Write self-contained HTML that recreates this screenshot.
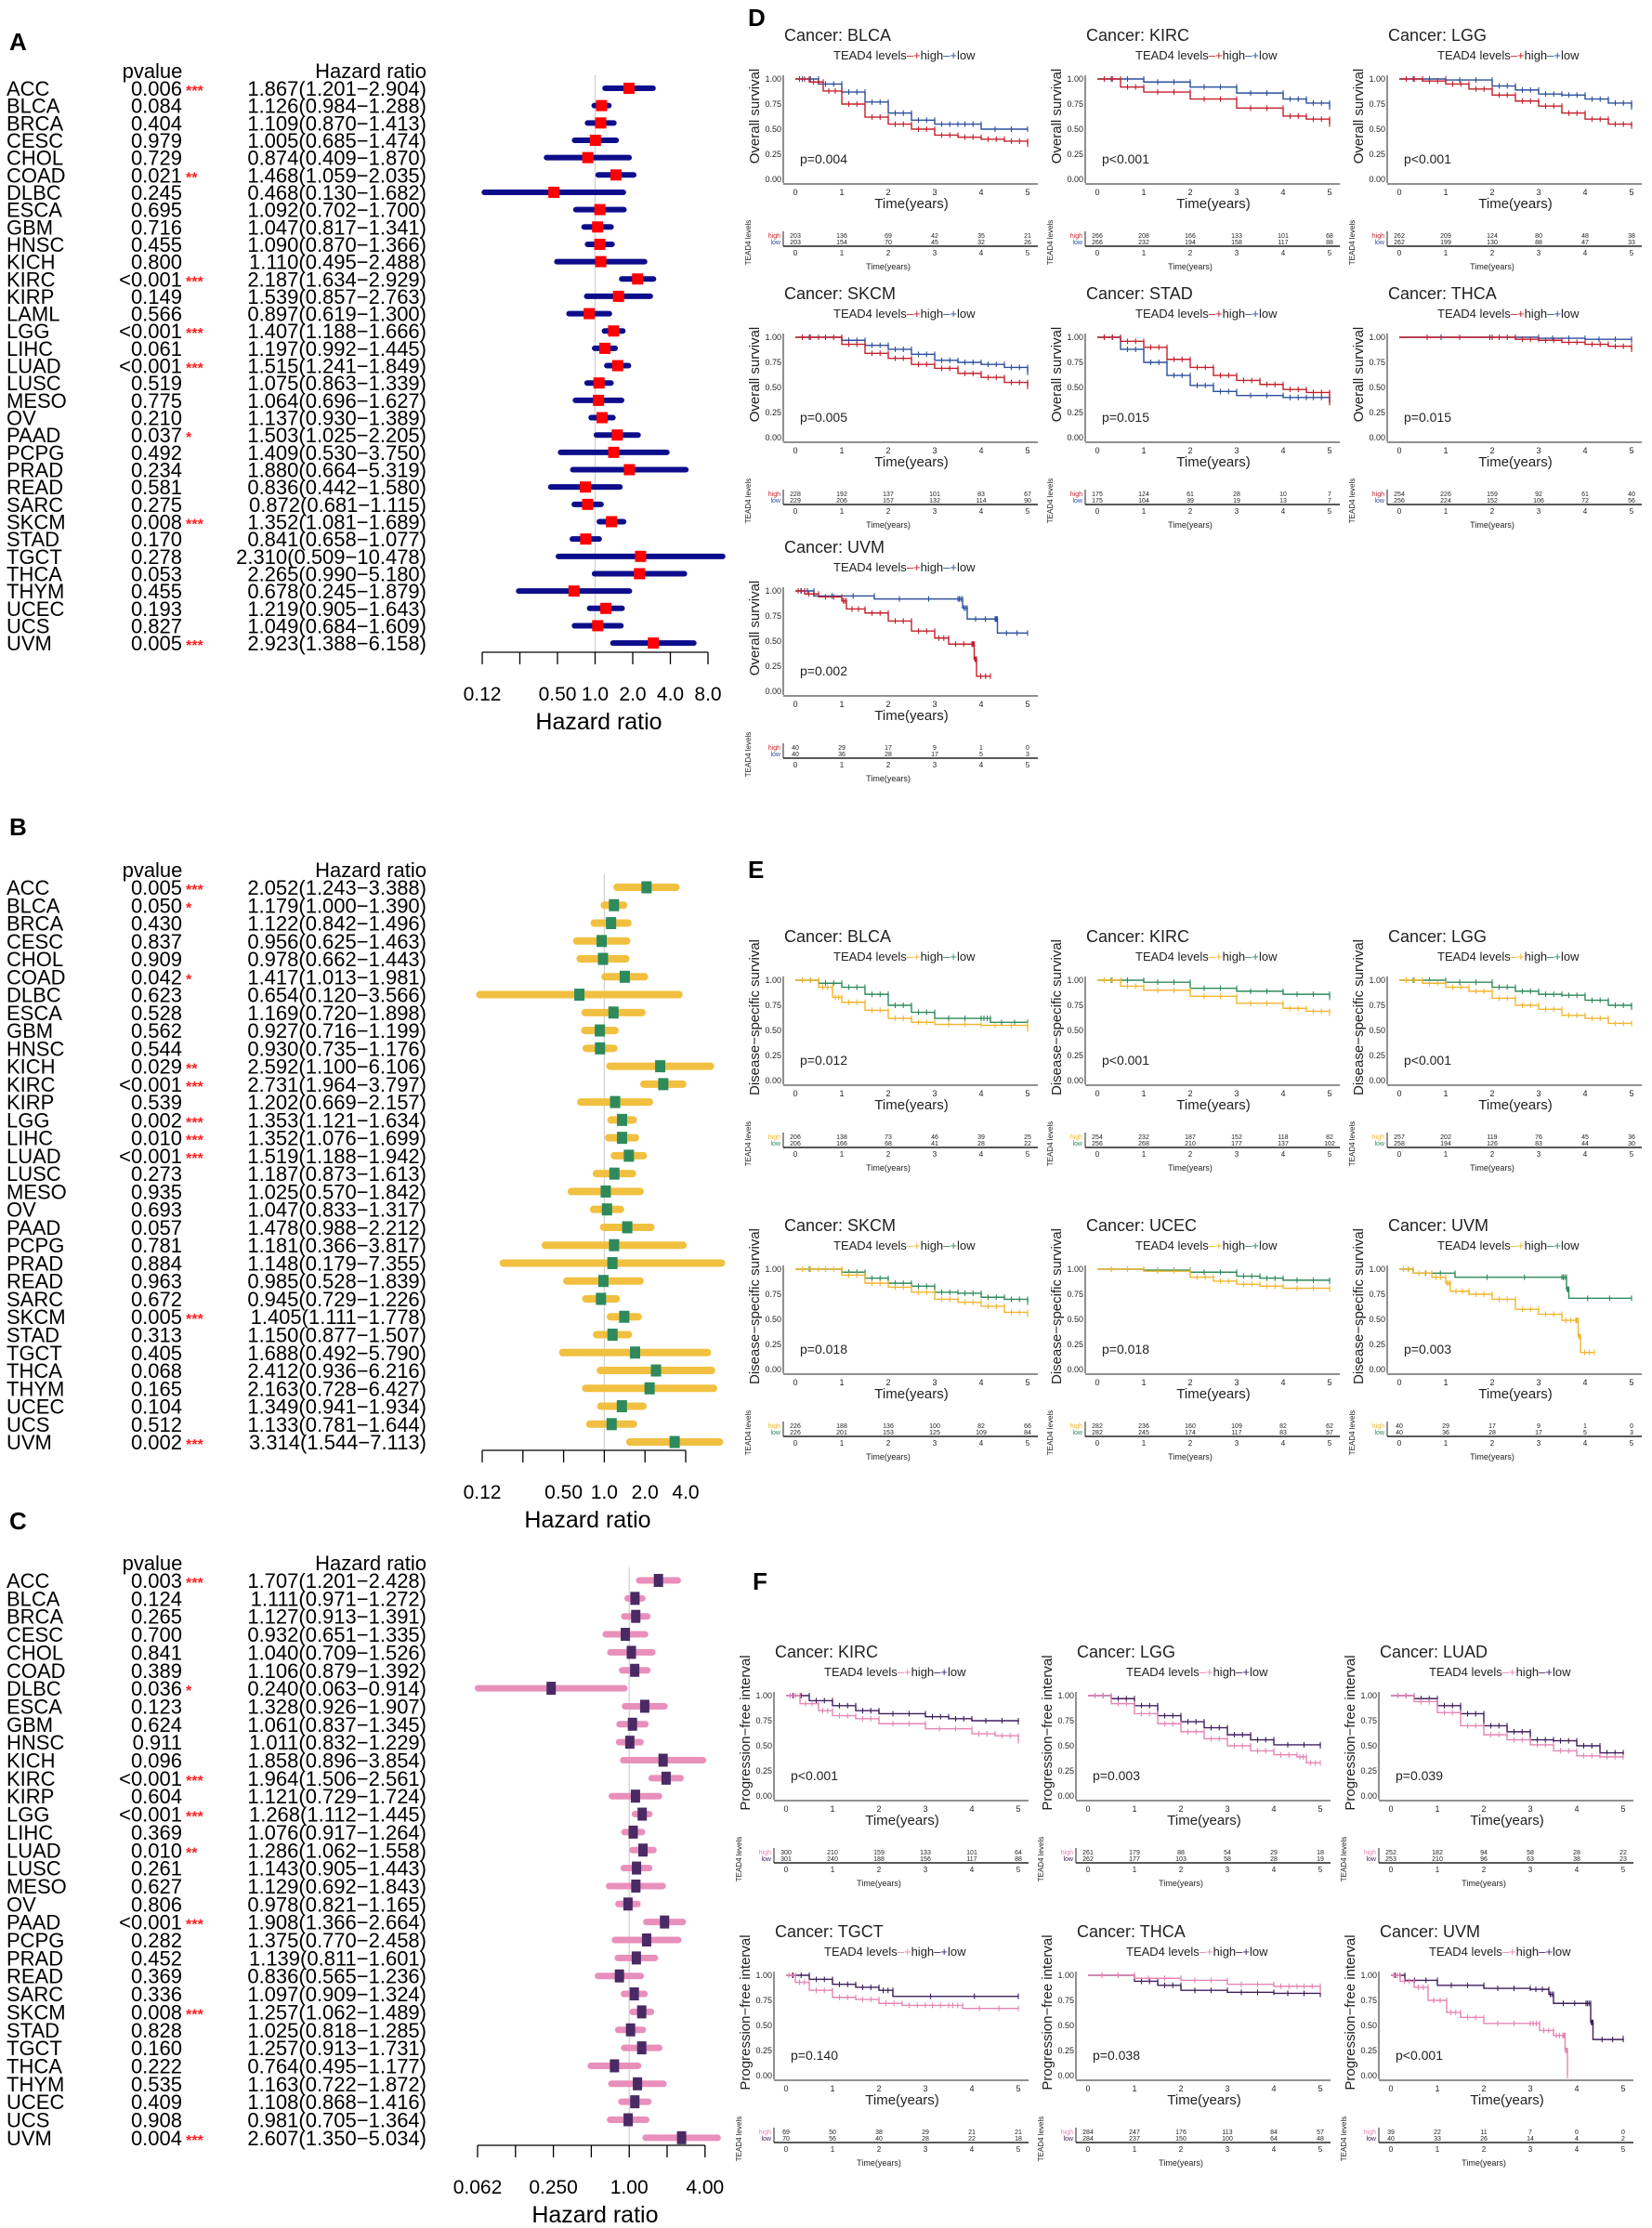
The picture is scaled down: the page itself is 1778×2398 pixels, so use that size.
<!DOCTYPE html>
<html><head><meta charset="utf-8"><title>TEAD4 survival figure</title>
<style>
html,body{margin:0;padding:0;background:#fff;}
svg{display:block;font-family:"Liberation Sans",Arial,sans-serif;}
.km text{font-family:"Liberation Sans Narrow","Liberation Sans",sans-serif;}
</style></head>
<body>
<svg id="fig" width="1778" height="2398" viewBox="0 0 1778 2398" xmlns="http://www.w3.org/2000/svg">
<rect x="0" y="0" width="1778" height="2398" fill="#fff"/>
</svg>
<script>
// ---------- Forest plot data ----------
const catsA = ["ACC","BLCA","BRCA","CESC","CHOL","COAD","DLBC","ESCA","GBM","HNSC","KICH","KIRC","KIRP","LAML","LGG","LIHC","LUAD","LUSC","MESO","OV","PAAD","PCPG","PRAD","READ","SARC","SKCM","STAD","TGCT","THCA","THYM","UCEC","UCS","UVM"];
const pA = ["0.006","0.084","0.404","0.979","0.729","0.021","0.245","0.695","0.716","0.455","0.800","<0.001","0.149","0.566","<0.001","0.061","<0.001","0.519","0.775","0.210","0.037","0.492","0.234","0.581","0.275","0.008","0.170","0.278","0.053","0.455","0.193","0.827","0.005"];
const starsA = ["***","","","","","**","","","","","","***","","","***","","***","","","","*","","","","","***","","","","","","","***"];
const hrA = [1.867,1.126,1.109,1.005,0.874,1.468,0.468,1.092,1.047,1.090,1.110,2.187,1.539,0.897,1.407,1.197,1.515,1.075,1.064,1.137,1.503,1.409,1.880,0.836,0.872,1.352,0.841,2.310,2.265,0.678,1.219,1.049,2.923];
const loA = [1.201,0.984,0.870,0.685,0.409,1.059,0.130,0.702,0.817,0.870,0.495,1.634,0.857,0.619,1.188,0.992,1.241,0.863,0.696,0.930,1.025,0.530,0.664,0.442,0.681,1.081,0.658,0.509,0.990,0.245,0.905,0.684,1.388];
const hiA = [2.904,1.288,1.413,1.474,1.870,2.035,1.682,1.700,1.341,1.366,2.488,2.929,2.763,1.300,1.666,1.445,1.849,1.339,1.627,1.389,2.205,3.750,5.319,1.580,1.115,1.689,1.077,10.478,5.180,1.879,1.643,1.609,6.158];
const ticksA = [0.125,0.25,0.5,1,2,4,8];
const tickLabelsA = ["0.12","","0.50","1.0","2.0","4.0","8.0"];

const catsB = ["ACC","BLCA","BRCA","CESC","CHOL","COAD","DLBC","ESCA","GBM","HNSC","KICH","KIRC","KIRP","LGG","LIHC","LUAD","LUSC","MESO","OV","PAAD","PCPG","PRAD","READ","SARC","SKCM","STAD","TGCT","THCA","THYM","UCEC","UCS","UVM"];
const pB = ["0.005","0.050","0.430","0.837","0.909","0.042","0.623","0.528","0.562","0.544","0.029","<0.001","0.539","0.002","0.010","<0.001","0.273","0.935","0.693","0.057","0.781","0.884","0.963","0.672","0.005","0.313","0.405","0.068","0.165","0.104","0.512","0.002"];
const starsB = ["***","*","","","","*","","","","","**","***","","***","***","***","","","","","","","","","***","","","","","","","***"];
const hrB = [2.052,1.179,1.122,0.956,0.978,1.417,0.654,1.169,0.927,0.930,2.592,2.731,1.202,1.353,1.352,1.519,1.187,1.025,1.047,1.478,1.181,1.148,0.985,0.945,1.405,1.150,1.688,2.412,2.163,1.349,1.133,3.314];
const loB = [1.243,1.000,0.842,0.625,0.662,1.013,0.120,0.720,0.716,0.735,1.100,1.964,0.669,1.121,1.076,1.188,0.873,0.570,0.833,0.988,0.366,0.179,0.528,0.729,1.111,0.877,0.492,0.936,0.728,0.941,0.781,1.544];
const hiB = [3.388,1.390,1.496,1.463,1.443,1.981,3.566,1.898,1.199,1.176,6.106,3.797,2.157,1.634,1.699,1.942,1.613,1.842,1.317,2.212,3.817,7.355,1.839,1.226,1.778,1.507,5.790,6.216,6.427,1.934,1.644,7.113];
const ticksB = [0.125,0.25,0.5,1,2,4];
const tickLabelsB = ["0.12","","0.50","1.0","2.0","4.0"];

const catsC = catsB;
const pC = ["0.003","0.124","0.265","0.700","0.841","0.389","0.036","0.123","0.624","0.911","0.096","<0.001","0.604","<0.001","0.369","0.010","0.261","0.627","0.806","<0.001","0.282","0.452","0.369","0.336","0.008","0.828","0.160","0.222","0.535","0.409","0.908","0.004"];
const starsC = ["***","","","","","","*","","","","","***","","***","","**","","","","***","","","","","***","","","","","","","***"];
const hrC = [1.707,1.111,1.127,0.932,1.040,1.106,0.240,1.328,1.061,1.011,1.858,1.964,1.121,1.268,1.076,1.286,1.143,1.129,0.978,1.908,1.375,1.139,0.836,1.097,1.257,1.025,1.257,0.764,1.163,1.108,0.981,2.607];
const loC = [1.201,0.971,0.913,0.651,0.709,0.879,0.063,0.926,0.837,0.832,0.896,1.506,0.729,1.112,0.917,1.062,0.905,0.692,0.821,1.366,0.770,0.811,0.565,0.909,1.062,0.818,0.913,0.495,0.722,0.868,0.705,1.350];
const hiC = [2.428,1.272,1.391,1.335,1.526,1.392,0.914,1.907,1.345,1.229,3.854,2.561,1.724,1.445,1.264,1.558,1.443,1.843,1.165,2.664,2.458,1.601,1.236,1.324,1.489,1.285,1.731,1.177,1.872,1.416,1.364,5.034];
const ticksC = [0.0625,0.125,0.25,0.5,1,2,4];
const tickLabelsC = ["0.062","","0.250","","1.00","","4.00"];

// ---------- KM data: [time(years), survival] ----------
const D_BLCA_high=[[0,1],[0.3,.97],[0.6,.88],[1,.75],[1.5,.62],[2,.55],[2.5,.5],[3,.44],[3.5,.42],[4,.40],[4.5,.38],[5,.35]];
const D_BLCA_low=[[0,1],[0.5,.95],[1,.87],[1.5,.77],[2,.66],[2.5,.59],[3,.55],[3.5,.55],[4,.50],[5,.50]];
const D_KIRC_high=[[0,1],[0.5,.92],[1,.87],[2,.80],[3,.71],[4,.63],[4.5,.60],[5,.55]];
const D_KIRC_low=[[0,1],[1,.97],[2,.92],[3,.86],[4,.80],[4.5,.76],[5,.72]];
const D_LGG_high=[[0,1],[0.5,.98],[1,.95],[1.5,.90],[2,.84],[2.5,.78],[3,.73],[3.5,.66],[4,.60],[4.5,.55],[5,.53]];
const D_LGG_low=[[0,1],[1,.99],[2,.93],[2.5,.89],[3,.85],[3.5,.84],[4,.80],[4.5,.76],[5,.72]];
const D_SKCM_high=[[0,1],[0.5,1],[1,.93],[1.5,.84],[2,.79],[2.5,.73],[3,.69],[3.5,.64],[4,.60],[4.5,.55],[5,.51]];
const D_SKCM_low=[[0,1],[1,.97],[1.5,.92],[2,.88],[2.5,.83],[3,.77],[3.5,.75],[4,.73],[4.5,.70],[5,.65]];
const D_STAD_high=[[0,1],[0.5,.96],[1,.90],[1.5,.78],[2,.70],[2.5,.62],[3,.57],[3.5,.53],[4,.48],[4.5,.45],[5,.35]];
const D_STAD_low=[[0,1],[0.5,.88],[1,.75],[1.5,.62],[2,.52],[2.5,.46],[3,.42],[4,.40],[4.5,.40],[5,.35]];
const D_THCA_high=[[0,1],[2,1],[2.5,.98],[3,.97],[3.5,.95],[4,.93],[4.5,.91],[5,.88]];
const D_THCA_low=[[0,1],[3,.99],[4,.98],[5,.97]];
const D_UVM_high=[[0,1],[0.2,.97],[0.5,.94],[1,.90],[1.1,.82],[1.5,.78],[2,.70],[2.5,.60],[3,.53],[3.3,.47],[3.8,.47],[3.85,.32],[3.9,.15],[4.2,.15]];
const D_UVM_low=[[0,1],[0.4,.95],[1.7,.92],[3.5,.92],[3.6,.83],[3.7,.72],[4.3,.72],[4.35,.58],[5,.58]];

const E_BLCA_high=[[0,1],[0.5,.93],[0.8,.83],[1,.78],[1.5,.70],[2,.62],[2.5,.58],[3,.56],[4,.55],[5,.51]];
const E_BLCA_low=[[0,1],[0.5,.97],[1,.93],[1.5,.86],[2,.75],[2.5,.68],[3,.62],[4,.62],[4.2,.58],[5,.58]];
const E_KIRC_high=[[0,1],[0.5,.94],[1,.90],[2,.84],[3,.77],[4,.72],[4.5,.69],[5,.67]];
const E_KIRC_low=[[0,1],[1,.98],[2,.92],[3,.89],[4,.86],[5,.83]];
const E_LGG_high=[[0,1],[0.5,.97],[1,.93],[1.5,.89],[2,.82],[2.5,.75],[3,.71],[3.5,.65],[4,.62],[4.5,.57],[5,.57]];
const E_LGG_low=[[0,1],[1,.98],[2,.93],[2.5,.89],[3,.86],[3.5,.85],[4,.80],[4.5,.75],[5,.73]];
const E_SKCM_high=[[0,1],[0.5,1],[1,.94],[1.5,.86],[2,.82],[2.5,.77],[3,.70],[3.5,.67],[4,.63],[4.5,.57],[5,.55]];
const E_SKCM_low=[[0,1],[1,.97],[1.5,.91],[2,.86],[2.5,.83],[3,.77],[3.5,.76],[4,.72],[4.5,.70],[5,.67]];
const E_UCEC_high=[[0,1],[1,.98],[2,.92],[2.5,.88],[3,.85],[3.5,.83],[4,.81],[5,.80]];
const E_UCEC_low=[[0,1],[1,.99],[2,.97],[3,.93],[3.5,.91],[4,.89],[5,.88]];
const E_UVM_high=[[0,1],[0.3,.96],[0.7,.92],[1,.86],[1.1,.78],[1.5,.75],[2,.70],[2.5,.60],[3,.55],[3.5,.49],[3.8,.49],[3.85,.33],[3.9,.17],[4.2,.17]];
const E_UVM_low=[[0,1],[0.3,.96],[1.2,.92],[3.5,.92],[3.6,.80],[3.65,.71],[5,.71]];

const F_KIRC_high=[[0,1],[0.3,.92],[0.7,.85],[1,.80],[1.5,.77],[2,.72],[3,.67],[4,.62],[4.5,.60],[5,.55]];
const F_KIRC_low=[[0,1],[0.5,.95],[1,.90],[1.5,.85],[2,.82],[3,.79],[3.5,.77],[4,.75],[5,.74]];
const F_LGG_high=[[0,1],[0.5,.92],[1,.82],[1.5,.72],[2,.64],[2.5,.57],[3,.50],[3.5,.45],[4,.41],[4.5,.39],[4.7,.33],[5,.33]];
const F_LGG_low=[[0,1],[0.5,.97],[1,.90],[1.5,.80],[2,.74],[2.5,.68],[3,.61],[3.5,.56],[4,.51],[5,.50]];
const F_LUAD_high=[[0,1],[0.5,.94],[1,.83],[1.5,.70],[2,.61],[2.5,.56],[3,.51],[3.5,.45],[4,.40],[4.5,.39],[5,.39]];
const F_LUAD_low=[[0,1],[0.5,.97],[1,.90],[1.5,.82],[2,.70],[2.5,.64],[3,.56],[3.5,.55],[4,.50],[4.5,.43],[5,.41]];
const F_TGCT_high=[[0,1],[0.2,.93],[0.5,.85],[1,.78],[1.5,.76],[2,.72],[2.5,.70],[3,.70],[3.5,.70],[3.8,.67],[5,.67]];
const F_TGCT_low=[[0,1],[0.5,.96],[1,.91],[1.5,.88],[2,.85],[2.3,.79],[5,.79]];
const F_THCA_high=[[0,1],[1,.97],[2,.95],[3,.91],[4,.89],[4.5,.89],[5,.85]];
const F_THCA_low=[[0,1],[1,.94],[1.5,.90],[2,.85],[3,.83],[4,.82],[5,.81]];
const F_UVM_high=[[0,1],[0.2,.94],[0.5,.88],[0.8,.75],[1.2,.63],[1.5,.58],[2,.52],[3,.52],[3.2,.45],[3.5,.40],[3.7,.40],[3.75,.25],[3.8,0]];
const F_UVM_low=[[0,1],[0.3,.95],[1,.90],[2,.87],[3,.86],[3.4,.81],[3.5,.72],[4.2,.72],[4.3,.53],[4.35,.36],[5,.37]];

// risk tables (numbers at risk, years 0..5)
const riskD = {
 BLCA:[[203,136,69,42,35,21],[203,154,70,45,32,26]],
 KIRC:[[266,208,166,133,101,68],[266,232,194,158,117,88]],
 LGG:[[262,209,124,80,48,38],[262,199,130,88,47,33]],
 SKCM:[[228,192,137,101,83,67],[229,206,157,132,114,90]],
 STAD:[[175,124,61,28,10,7],[175,104,39,19,13,7]],
 THCA:[[254,226,159,92,61,40],[256,224,152,106,72,56]],
 UVM:[[40,29,17,9,1,0],[40,36,28,17,5,3]]
};
const riskE = {
 BLCA:[[206,138,73,46,39,25],[206,166,68,41,28,22]],
 KIRC:[[254,232,187,152,118,82],[256,268,210,177,137,102]],
 LGG:[[257,202,119,76,45,36],[258,194,126,83,44,30]],
 SKCM:[[226,188,136,100,82,66],[226,201,153,125,109,84]],
 UCEC:[[282,236,160,109,82,62],[282,245,174,117,83,57]],
 UVM:[[40,29,17,9,1,0],[40,36,28,17,5,3]]
};
const riskF = {
 KIRC:[[300,210,159,133,101,64],[301,240,188,156,117,88]],
 LGG:[[261,179,88,54,29,18],[262,177,103,58,28,19]],
 LUAD:[[252,182,94,58,28,22],[253,210,96,63,38,23]],
 TGCT:[[69,50,38,29,21,21],[70,56,40,28,22,18]],
 THCA:[[284,247,176,113,84,57],[284,237,150,100,64,48]],
 UVM:[[39,22,11,7,0,0],[40,33,26,14,4,2]]
};

const NS = 'http://www.w3.org/2000/svg';
const svg = document.getElementById('fig');
function mk(tag, attrs, parent){
  const e = document.createElementNS(NS, tag);
  for (const k in attrs) e.setAttribute(k, attrs[k]);
  (parent || svg).appendChild(e);
  return e;
}
function tx(x, y, s, attrs, parent){
  const e = mk('text', Object.assign({x:x, y:y}, attrs), parent);
  e.textContent = s;
  return e;
}

// ---------- panel letters ----------
const letters = [["A",10,54],["B",10,899],["C",10,1646],["D",805,28],["E",805,945],["F",810,1711]];
letters.forEach(L => {
  const t = tx(L[1], L[2], L[0], {'font-size':26,'font-weight':'bold',fill:'#000'});
  
  
});

// ---------- forest plot ----------
function forest(cfg){
  const g = mk('g', {});
  
  
  const lt = Math.log2(cfg.ticks[0]);
  const xs = v => cfg.ax0 + (Math.log2(v) - lt) * cfg.per;
  const fs = 22;
  const h1 = tx(164, cfg.y0 - 19 + 8, 'pvalue', {'font-size':fs,'text-anchor':'middle'}, g);
  
  
  const h2 = tx(459, cfg.y0 - 19 + 8, 'Hazard ratio', {'font-size':fs,'text-anchor':'end'}, g);
  
  
  const yEnd = cfg.y0 + (cfg.cats.length - 1) * cfg.dy;
  const ref = mk('line', {x1:xs(1), x2:xs(1), y1:cfg.y0 - 14, y2:cfg.axisY, stroke:'#cfcfcf','stroke-width':1.2}, g);
  
  
  cfg.cats.forEach((c, i) => {
    const y = cfg.y0 + i * cfg.dy;
    const t1 = tx(7, y + 8, c, {'font-size':fs}, g);
    
    
    const t2 = tx(196, y + 8, cfg.p[i], {'font-size':fs,'text-anchor':'end'}, g);
    
    
    if (cfg.st[i]) {
      const t3 = tx(200, y + 8, cfg.st[i], {'font-size':16,'font-weight':'bold',fill:'#ff2020'}, g);
      
      
    }
    const s = cfg.hr[i].toFixed(3) + '(' + cfg.lo[i].toFixed(3) + '\u2212' + cfg.hi[i].toFixed(3) + ')';
    const t4 = tx(459, y + 8, s, {'font-size':fs,'text-anchor':'end'}, g);
    
    
    const ci = mk('line', {x1:xs(cfg.lo[i]), x2:xs(cfg.hi[i]), y1:y, y2:y, stroke:cfg.barColor,'stroke-width':cfg.barW,'stroke-linecap':'round'}, g);
    
    
    const bx = mk('rect', {x:xs(cfg.hr[i]) - cfg.boxW/2, y:y - cfg.boxH/2, width:cfg.boxW, height:cfg.boxH, fill:cfg.boxColor}, g);
    
    
  });
  const ax = mk('line', {x1:xs(cfg.ticks[0]), x2:xs(cfg.ticks[cfg.ticks.length-1]), y1:cfg.axisY, y2:cfg.axisY, stroke:'#000','stroke-width':1.3}, g);
  
  
  cfg.ticks.forEach((tv, k) => {
    const tk = mk('line', {x1:xs(tv), x2:xs(tv), y1:cfg.axisY, y2:cfg.axisY + 13, stroke:'#000','stroke-width':1.3}, g);
    
    
    if (cfg.tickLabels[k]) {
      const tl = tx(xs(tv), cfg.axisY + 52, cfg.tickLabels[k], {'font-size':21,'text-anchor':'middle'}, g);
      
      
    }
  });
  const xt = tx((xs(cfg.ticks[0]) + xs(cfg.ticks[cfg.ticks.length-1])) / 2 + 4, cfg.axisY + 83, 'Hazard ratio', {'font-size':25,'text-anchor':'middle'}, g);
  
  
}

forest({name:'forest-plot-a', cats:catsA, p:pA, st:starsA, hr:hrA, lo:loA, hi:hiA, ticks:ticksA, tickLabels:tickLabelsA,
  y0:95, dy:18.66, ax0:519, per:40.5, axisY:702, barColor:'#0d0d8c', barW:6, boxColor:'#ff0000', boxW:12, boxH:12});
forest({name:'forest-plot-b', cats:catsB, p:pB, st:starsB, hr:hrB, lo:loB, hi:hiB, ticks:ticksB, tickLabels:tickLabelsB,
  y0:955, dy:19.26, ax0:519, per:43.8, axisY:1561, barColor:'#f2c040', barW:8, boxColor:'#2e8a5c', boxW:11, boxH:13});
forest({name:'forest-plot-c', cats:catsC, p:pC, st:starsC, hr:hrC, lo:loC, hi:hiC, ticks:ticksC, tickLabels:tickLabelsC,
  y0:1701, dy:19.35, ax0:514, per:40.8, axisY:2309, barColor:'#e98fbb', barW:7, boxColor:'#4a2a64', boxW:10, boxH:14});

// ---------- KM panel ----------
function km(cfg){
  const g = mk('g', {class:'km'});
  
  
  const ox = cfg.ox, oy = cfg.oy, h = 108, yr = 50;
  const X = t => ox + t * yr;
  const Y = s => oy + (1 - s) * h;
  const t1 = tx(ox - 12, oy - 41, 'Cancer: ' + cfg.cancer, {'font-size':18,fill:'#222'}, g);
  
  
  const lg = tx(ox + 41, oy - 21, '', {'font-size':13,fill:'#222'}, g);
  
  
  const parts = [['TEAD4 levels','#222'],['\u2012+','' + cfg.cHigh],['high','#222'],['\u2012+', cfg.cLow],['low','#222']];
  parts.forEach(pp => {
    const sp = mk('tspan', {fill:pp[1]}, lg);
    sp.textContent = pp[0];
    
    
  });
  const yl = tx(0, 0, cfg.ylab, {'font-size':15,fill:'#222','text-anchor':'middle',transform:'translate(' + (ox - 39) + ',' + (oy + 40) + ') rotate(-90)'}, g);
  
  
  const ya = mk('line', {x1:ox - 13, x2:ox - 13, y1:oy - 4, y2:oy + h + 4, stroke:'#222','stroke-width':1}, g);
  
  
  [0, 0.25, 0.5, 0.75, 1].forEach(v => {
    const yl2 = tx(ox - 15, Y(v) + 3, v.toFixed(2), {'font-size':9,'text-anchor':'end',fill:'#222'}, g);
    
    
  });
  const xa = mk('line', {x1:ox - 13, x2:ox + 261, y1:oy + 113, y2:oy + 113, stroke:'#222','stroke-width':1}, g);
  
  
  for (let t = 0; t <= 5; t++) {
    const xl = tx(X(t), oy + 125, String(t), {'font-size':9,'text-anchor':'middle',fill:'#222'}, g);
    
    
  }
  const xt = tx(ox + 125, oy + 139, 'Time(years)', {'font-size':15,'text-anchor':'middle',fill:'#222'}, g);
  
  
  const pt = tx(ox + 5, oy + 91, cfg.p, {'font-size':14,fill:'#222'}, g);
  
  
  [[cfg.low, cfg.cLow, 'low'], [cfg.high, cfg.cHigh, 'high']].forEach(cv => {
    const pts = cv[0];
    let d = 'M' + X(pts[0][0]) + ',' + Y(pts[0][1]);
    let marks = '';
    for (let i = 1; i < pts.length; i++) {
      d += 'H' + X(pts[i][0]) + 'V' + Y(pts[i][1]);
      const xa0 = X(pts[i-1][0]), xa1 = X(pts[i][0]), yy = Y(pts[i-1][1]);
      for (let f = 0.3; f < 1; f += 0.35) {
        const mx = xa0 + (xa1 - xa0) * f;
        marks += 'M' + mx + ',' + (yy - 3) + 'V' + (yy + 3);
      }
    }
    const last = pts[pts.length-1];
    marks += 'M' + X(last[0]) + ',' + (Y(last[1]) - 3) + 'V' + (Y(last[1]) + 3);
    const pa = mk('path', {d:d, fill:'none', stroke:cv[1], 'stroke-width':1.4}, g);
    
    
    const cm = mk('path', {d:marks, fill:'none', stroke:cv[1], 'stroke-width':1.1}, g);
    
    
  });
  // risk table
  const rt = tx(0, 0, 'TEAD4 levels', {'font-size':8,'text-anchor':'middle',fill:'#222',transform:'translate(' + (ox - 48) + ',' + (oy + 176) + ') rotate(-90)'}, g);
  
  
  const rh = tx(ox - 16, oy + 171, 'high', {'font-size':7,'text-anchor':'end',fill:cfg.cHigh}, g);
  
  
  const rl = tx(ox - 16, oy + 178, 'low', {'font-size':7,'text-anchor':'end',fill:cfg.cLow}, g);
  
  
  const ra = mk('line', {x1:ox - 13, x2:ox - 13, y1:oy + 164, y2:oy + 180, stroke:'#222','stroke-width':1}, g);
  
  
  const rx = mk('line', {x1:ox - 13, x2:ox + 261, y1:oy + 180, y2:oy + 180, stroke:'#222','stroke-width':1.4}, g);
  
  
  for (let t = 0; t <= 5; t++) {
    const n1 = tx(X(t), oy + 171, String(cfg.risk[0][t]), {'font-size':7,'text-anchor':'middle',fill:'#222'}, g);
    
    
    const n2 = tx(X(t), oy + 178, String(cfg.risk[1][t]), {'font-size':7,'text-anchor':'middle',fill:'#222'}, g);
    
    
    const n3 = tx(X(t), oy + 190, String(t), {'font-size':8,'text-anchor':'middle',fill:'#222'}, g);
    
    
  }
  const rtt = tx(ox + 100, oy + 205, 'Time(years)', {'font-size':9,'text-anchor':'middle',fill:'#222'}, g);
  
  
}

const colD = [856, 1181, 1506], rowD = [85, 363, 636];
const colE = [856, 1181, 1506], rowE = [1055, 1366];
const colF = [846, 1171, 1497], rowF = [1825, 2126];
const cD = ['#c3202c', '#2b4f9c'], cE = ['#f2b62e', '#2e8a5c'], cF = ['#e586b4', '#3f1f5e'];
const ylD = 'Overall survival', ylE = 'Disease\u2212specific survival', ylF = 'Progression\u2212free interval';

const panelsD = [['BLCA',D_BLCA_high,D_BLCA_low,'p=0.004'],['KIRC',D_KIRC_high,D_KIRC_low,'p<0.001'],['LGG',D_LGG_high,D_LGG_low,'p<0.001'],
 ['SKCM',D_SKCM_high,D_SKCM_low,'p=0.005'],['STAD',D_STAD_high,D_STAD_low,'p=0.015'],['THCA',D_THCA_high,D_THCA_low,'p=0.015'],['UVM',D_UVM_high,D_UVM_low,'p=0.002']];
panelsD.forEach((p, i) => km({name:'km-os-' + p[0].toLowerCase(), cancer:p[0], high:p[1], low:p[2], p:p[3], ox:colD[i % 3], oy:rowD[Math.floor(i / 3)],
  cHigh:cD[0], cLow:cD[1], ylab:ylD, risk:riskD[p[0]]}));
const panelsE = [['BLCA',E_BLCA_high,E_BLCA_low,'p=0.012'],['KIRC',E_KIRC_high,E_KIRC_low,'p<0.001'],['LGG',E_LGG_high,E_LGG_low,'p<0.001'],
 ['SKCM',E_SKCM_high,E_SKCM_low,'p=0.018'],['UCEC',E_UCEC_high,E_UCEC_low,'p=0.018'],['UVM',E_UVM_high,E_UVM_low,'p=0.003']];
panelsE.forEach((p, i) => km({name:'km-dss-' + p[0].toLowerCase(), cancer:p[0], high:p[1], low:p[2], p:p[3], ox:colE[i % 3], oy:rowE[Math.floor(i / 3)],
  cHigh:cE[0], cLow:cE[1], ylab:ylE, risk:riskE[p[0]]}));
const panelsF = [['KIRC',F_KIRC_high,F_KIRC_low,'p<0.001'],['LGG',F_LGG_high,F_LGG_low,'p=0.003'],['LUAD',F_LUAD_high,F_LUAD_low,'p=0.039'],
 ['TGCT',F_TGCT_high,F_TGCT_low,'p=0.140'],['THCA',F_THCA_high,F_THCA_low,'p=0.038'],['UVM',F_UVM_high,F_UVM_low,'p<0.001']];
panelsF.forEach((p, i) => km({name:'km-pfi-' + p[0].toLowerCase(), cancer:p[0], high:p[1], low:p[2], p:p[3], ox:colF[i % 3], oy:rowF[Math.floor(i / 3)],
  cHigh:cF[0], cLow:cF[1], ylab:ylF, risk:riskF[p[0]]}));
</script>
</body></html>
